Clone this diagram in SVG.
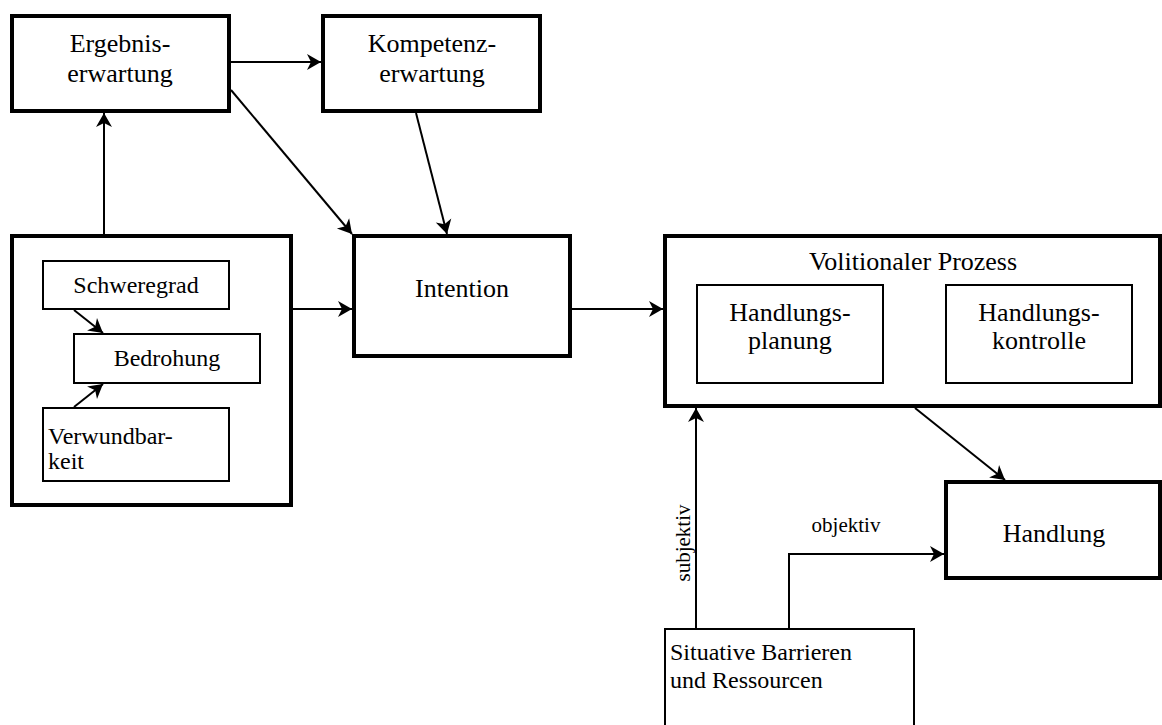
<svg xmlns="http://www.w3.org/2000/svg" width="1162" height="725" viewBox="0 0 1162 725">
<style>
.thick{fill:#fff;stroke:#000;stroke-width:4}
.thin{fill:#fff;stroke:#000;stroke-width:2}
.big{font-size:26px}
.mid{font-size:24px}
.lab{font-size:21px}
.c{text-anchor:middle}
.con{fill:none;stroke:#000;stroke-width:2}
</style>
<defs>
<marker id="ah" viewBox="-15 -9 16 18" markerUnits="userSpaceOnUse" markerWidth="16" markerHeight="18" refX="0" refY="0" orient="auto">
<path d="M0,0 L-14,-8 L-10,0 L-14,8 z" fill="#000"/>
</marker>
</defs>
<rect width="1162" height="725" fill="#fff"/>
<g font-family="Liberation Serif, Times New Roman, DejaVu Serif, serif" fill="#000">
<g id="ergebnis">
<rect class="thick" x="12" y="16" width="217" height="95"/>
<text class="big c" x="120" y="52">Ergebnis-</text>
<text class="big c" x="120" y="82">erwartung</text>
</g>
<g id="kompetenz">
<rect class="thick" x="323" y="16" width="217" height="95"/>
<text class="big c" x="432" y="52">Kompetenz-</text>
<text class="big c" x="432" y="82">erwartung</text>
</g>
<g id="intention">
<rect class="thick" x="354" y="236" width="216" height="120"/>
<text class="big c" x="462" y="297">Intention</text>
</g>
<g id="bedrohungsgruppe">
<rect class="thick" x="12" y="236" width="279" height="269"/>
</g>
<g id="schweregrad">
<rect class="thin" x="43" y="261" width="186" height="48"/>
<text class="mid c" x="136" y="293">Schweregrad</text>
</g>
<g id="bedrohung">
<rect class="thin" x="74" y="334" width="186" height="49"/>
<text class="mid c" x="167" y="366">Bedrohung</text>
</g>
<g id="verwundbarkeit">
<rect class="thin" x="43" y="408" width="186" height="73"/>
<text class="mid" x="48" y="444">Verwundbar-</text>
<text class="mid" x="48" y="469">keit</text>
</g>
<g id="volitional">
<rect class="thick" x="665" y="236" width="495" height="170"/>
<text class="big c" x="913" y="270">Volitionaler Prozess</text>
</g>
<g id="planung">
<rect class="thin" x="697" y="285" width="186" height="98"/>
<text class="big c" x="790" y="321">Handlungs-</text>
<text class="big c" x="790" y="349">planung</text>
</g>
<g id="kontrolle">
<rect class="thin" x="946" y="285" width="186" height="98"/>
<text class="big c" x="1039" y="321">Handlungs-</text>
<text class="big c" x="1039" y="349">kontrolle</text>
</g>
<g id="handlung">
<rect class="thick" x="946" y="482" width="214" height="96"/>
<text class="big c" x="1054" y="542">Handlung</text>
</g>
<g id="situative">
<rect class="thin" x="665" y="629" width="249" height="110"/>
<text class="mid" x="670" y="660">Situative Barrieren</text>
<text class="mid" x="670" y="688">und Ressourcen</text>
</g>
<g id="connectors">
<line class="con" x1="104" y1="234" x2="104" y2="113" marker-end="url(#ah)"/>
<line class="con" x1="231" y1="62" x2="321" y2="62" marker-end="url(#ah)"/>
<line class="con" x1="231" y1="90" x2="352" y2="234" marker-end="url(#ah)"/>
<line class="con" x1="416" y1="113" x2="447" y2="234" marker-end="url(#ah)"/>
<line class="con" x1="293" y1="309" x2="352" y2="309" marker-end="url(#ah)"/>
<line class="con" x1="74" y1="310" x2="103" y2="333" marker-end="url(#ah)"/>
<line class="con" x1="74" y1="407" x2="103" y2="384" marker-end="url(#ah)"/>
<line class="con" x1="572" y1="309" x2="663" y2="309" marker-end="url(#ah)"/>
<line class="con" x1="915" y1="408" x2="1005" y2="480" marker-end="url(#ah)"/>
<line class="con" x1="696" y1="628" x2="696" y2="408" marker-end="url(#ah)"/>
<polyline class="con" points="789,628 789,554 944,554" marker-end="url(#ah)"/>
<text class="lab c" transform="translate(690,543) rotate(-90)">subjektiv</text>
<text class="lab c" x="846" y="532">objektiv</text>
</g>
</g>
</svg>
